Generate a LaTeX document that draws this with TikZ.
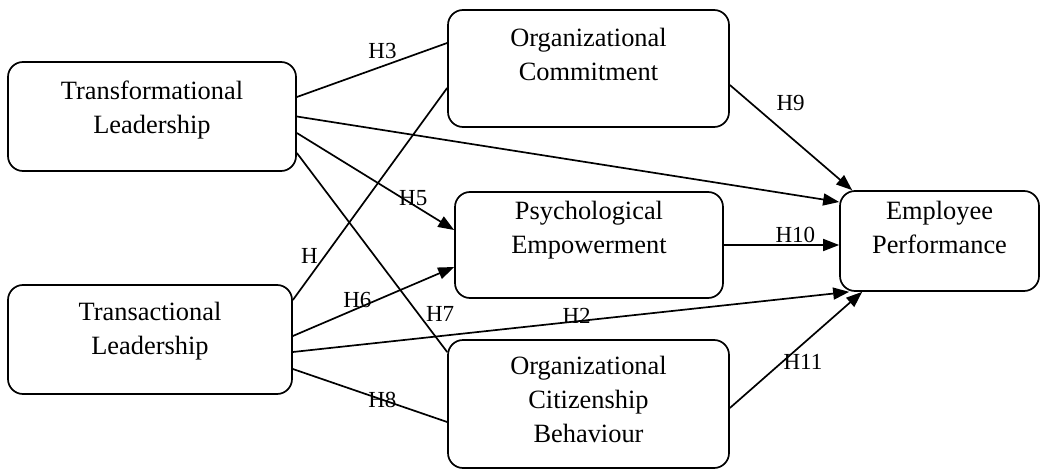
\documentclass[tikz,border=0pt]{standalone}
\usepackage{fontspec}
\setmainfont{Liberation Serif}
\usepackage{tikz}
\usetikzlibrary{arrows.meta}

\begin{document}
\begin{tikzpicture}[
    x=0.5pt, y=-0.5pt,
    box/.style={rectangle, draw, rounded corners=7.5pt, line width=0.85pt, align=center,
        font=\fontsize{13.2}{17}\selectfont, text depth=12pt},
    link/.style={line width=0.85pt},
    arrow/.style={link, -{Triangle[length=8pt,width=6pt]}},
    hyp/.style={font=\fontsize{11.5}{13}\selectfont}
]
    \useasboundingbox (0,0) rectangle (1042,470);

    % leadership styles on the left
    \node[box, minimum width=144pt, minimum height=54.5pt, text depth=8.8pt] (transform) at (152,116.5) {Transformational\\Leadership};
    \node[box, minimum width=142pt, minimum height=54.5pt, text depth=10.8pt] (transact) at (150,339.5) {Transactional\\Leadership};

    % mediators
    \node[box, minimum width=140.5pt, minimum height=58.5pt, text depth=13.8pt] (commit) at (588.5,68.5) {Organizational\\Commitment};
    \node[box, minimum width=134pt, minimum height=53pt, text depth=17.8pt] (empower) at (589,245) {Psychological\\Empowerment};
    \node[box, minimum width=140.5pt, minimum height=64pt, text depth=4.8pt] (citizen) at (588.5,404) {Organizational\\Citizenship\\Behaviour};

    % outcome
    \node[box, minimum width=99.5pt, minimum height=50pt, text depth=13.8pt] (perform) at (939.5,241) {Employee\\Performance};

    % paths from transformational leadership
    \draw[link] ([yshift=9.75pt]transform.east) -- node[hyp, pos=0.57, above] {H3} ([yshift=12.75pt]commit.west);
    \draw[arrow] (transform.east) -- ([yshift=19.5pt]perform.west);
    \draw[arrow] ([yshift=-8.25pt]transform.east) -- node[hyp, pos=0.74, yshift=3.5pt] {H5} ([yshift=7.5pt]empower.west);
    \draw[link] ([yshift=-18.25pt]transform.east) -- node[hyp, pos=0.81, right] {H7} ([yshift=26pt]citizen.west);

    % paths from transactional leadership
    \draw[link] ([yshift=19.75pt]transact.east) -- node[hyp, pos=0.21, left] {H} ([yshift=-9.75pt]commit.west);
    \draw[arrow] ([yshift=1.75pt]transact.east) -- node[hyp, pos=0.4, yshift=4pt] {H6} ([yshift=-11pt]empower.west);
    \draw[arrow] ([yshift=-6.25pt]transact.east) -- node[hyp, pos=0.51, yshift=2.5pt] {H2} ([xshift=5pt]perform.south west);
    \draw[link] ([yshift=-14.75pt]transact.east) -- node[hyp, pos=0.58] {H8} ([yshift=-9pt]citizen.west);

    % mediators into performance
    \draw[arrow] ([yshift=-8.25pt]commit.east) -- node[hyp, pos=0.32, above right] {H9} ([xshift=6.5pt]perform.north west);
    \draw[arrow] (empower.east) -- node[hyp, pos=0.62, yshift=5pt] {H10} (empower.east -| perform.west);
    \draw[arrow] ([yshift=-2pt]citizen.east) -- node[hyp, pos=0.4, right, inner sep=0pt] {H11} ([xshift=11.5pt]perform.south west);
\end{tikzpicture}
\end{document}
